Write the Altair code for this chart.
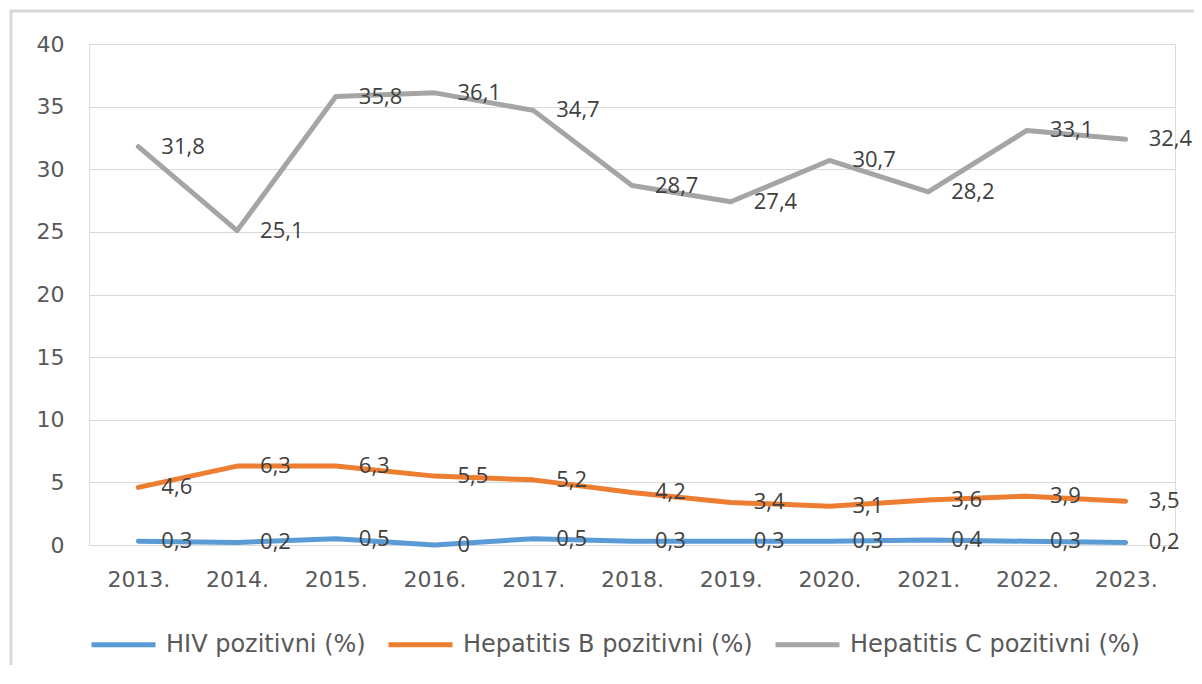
import altair as alt
import pandas as pd

years = ["2013.", "2014.", "2015.", "2016.", "2017.", "2018.", "2019.", "2020.", "2021.", "2022.", "2023."]
hiv = [0.3, 0.2, 0.5, 0, 0.5, 0.3, 0.3, 0.3, 0.4, 0.3, 0.2]
hep_b = [4.6, 6.3, 6.3, 5.5, 5.2, 4.2, 3.4, 3.1, 3.6, 3.9, 3.5]
hep_c = [31.8, 25.1, 35.8, 36.1, 34.7, 28.7, 27.4, 30.7, 28.2, 33.1, 32.4]
series_names = ["HIV pozitivni (%)", "Hepatitis B pozitivni (%)", "Hepatitis C pozitivni (%)"]
colors = ["#5B9BD5", "#ED7D31", "#A5A5A5"]
y_ticks = [0, 5, 10, 15, 20, 25, 30, 35, 40]


def fmt(v):
    s = ("%g" % v)
    return s.replace(".", ",")


rows = []
for name, vals in zip(series_names, [hiv, hep_b, hep_c]):
    for i, (yr, v) in enumerate(zip(years, vals)):
        rows.append({"year": yr, "value": v, "series": name, "label": fmt(v),
                     "order": series_names.index(name)})
df = pd.DataFrame(rows)

W, H = 1086, 501
FONT = "DejaVu Sans"

x_enc = alt.X("year:O", sort=years, scale=alt.Scale(type="point", padding=0.5),
              axis=alt.Axis(title=None, labelAngle=0, ticks=False, domain=False, grid=False,
                            labelPadding=24, labelFontSize=22, labelColor="#595959",
                            labelFont=FONT))
y_enc = alt.Y("value:Q", scale=alt.Scale(domain=[0, 40], nice=False, zero=True),
              axis=alt.Axis(title=None, values=y_ticks, ticks=False, domain=False,
                            gridColor="#d9d9d9", gridWidth=1, labelPadding=25,
                            labelFontSize=22, labelColor="#595959", labelFont=FONT))

color_enc = alt.Color("series:N", sort=series_names,
                      scale=alt.Scale(domain=series_names, range=colors),
                      legend=alt.Legend(title=None, orient="none", direction="horizontal",
                                        legendX=0, legendY=566,
                                        symbolType="stroke", symbolSize=4096,
                                        symbolStrokeWidth=5, labelOffset=8,
                                        columnPadding=12, labelFontSize=24,
                                        labelFont=FONT, labelLimit=0,
                                        labelColor="#595959", padding=0))

lines = alt.Chart(df).mark_line(strokeWidth=5, strokeCap="round", strokeJoin="round").encode(
    x=x_enc, y=y_enc, color=color_enc, detail="series:N", order="order:Q"
)

labels = alt.Chart(df).mark_text(align="left", baseline="middle", dx=23, fontSize=22,
                                  font="Open Sans", color="#404040").encode(
    x=alt.X("year:O", sort=years), y=alt.Y("value:Q"), text="label:N"
)

frame = alt.Chart(pd.DataFrame({"a": [0]})).mark_rect(
    fill=None, stroke="#d9d9d9", strokeWidth=3
).encode(
    x=alt.value(-78), x2=alt.value(W + 200), y=alt.value(-33), y2=alt.value(H + 300)
)

chart = alt.layer(frame, lines, labels).properties(
    width=W, height=H,
    autosize=alt.AutoSizeParams(type="none"),
    padding={"left": 81, "top": 36, "right": 19, "bottom": 120},
).configure_view(stroke=None).configure(background="white")

chart.save("out.html", embed_options={"renderer": "svg", "actions": False})
